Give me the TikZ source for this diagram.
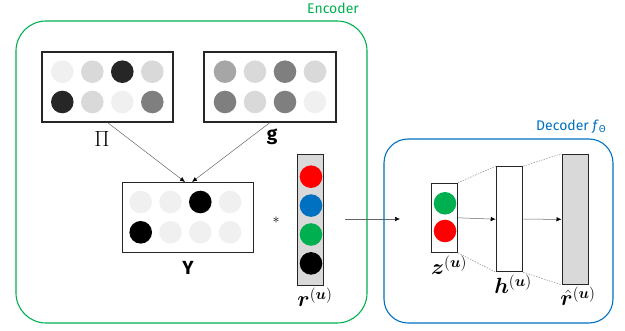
\RequirePackage{fix-cm}
\documentclass[tikz,border=0pt]{standalone}
\usepackage{amsmath}
\usepackage{bm}
\usepackage{fontspec}
\setsansfont{Fira Sans}
\usetikzlibrary{arrows.meta}
\definecolor{encgreen}{HTML}{00B050}
\definecolor{decblue}{HTML}{0070C0}
\definecolor{gA}{HTML}{F0F0F0}
\definecolor{gB}{HTML}{D9D9D9}
\definecolor{gC}{HTML}{262626}
\definecolor{gD}{HTML}{7F7F7F}
\definecolor{gE}{HTML}{A6A6A6}
\definecolor{dotred}{HTML}{FF0000}
\definecolor{dotblue}{HTML}{0070C0}
\definecolor{dotgreen}{HTML}{00B050}
\begin{document}
\begin{tikzpicture}[x=1pt,y=-1pt,
  matbox/.style={draw=black!85, line width=1.1pt, inner sep=0pt},
  dot/.style={circle, minimum size=22.6pt, inner sep=0pt},
  conn/.style={draw=black!60, line width=0.5pt, -{Latex[length=5pt,width=4.5pt,color=black]}},
  guide/.style={draw=black!45, line width=0.5pt, dash pattern=on 1.5pt off 1.2pt},
  mlabel/.style={font=\fontsize{22}{25}\selectfont, anchor=base, inner sep=0pt},
  slabel/.style={font=\sffamily\bfseries\fontsize{19}{22}\selectfont, anchor=base, inner sep=0pt},
  title/.style={font=\sffamily\fontsize{14}{16}\selectfont, inner sep=0pt}]
\useasboundingbox (0,0) rectangle (625,331);

% Encoder
\node[draw=encgreen, line width=1.1pt, rounded corners=30pt, minimum width=351pt, minimum height=302pt] (enc) at (191.5,172) {};
\node[title, text=encgreen] (enclbl) at (333,8) {Encoder};

% Pi box
\node[matbox, minimum width=131pt, minimum height=70pt] (pibox) at (107.5,87) {};
\foreach \c [count=\i] in {gA,gB,gC,gB}
  \node[dot, fill=\c] (pia\i) at ({62.3+30*(\i-1)},71.7) {};
\foreach \c [count=\i] in {gC,gB,gA,gD}
  \node[dot, fill=\c] (pib\i) at ({62.3+30*(\i-1)},102) {};
\node[mlabel] (pilbl) at (102,147) {$\Pi$};

% g box
\node[matbox, minimum width=132pt, minimum height=70pt] (gbox) at (270,87) {};
\foreach \c [count=\i] in {gE,gB,gD,gB}
  \node[dot, fill=\c] (ga\i) at ({225+30*(\i-1)},71.7) {};
\foreach \c [count=\i] in {gD,gB,gD,gA}
  \node[dot, fill=\c] (gb\i) at ({225+30*(\i-1)},102) {};
\node[slabel] (glbl) at (272,141) {g};

% Y box
\node[matbox, minimum width=131pt, minimum height=70pt] (ybox) at (188,217.5) {};
\foreach \c [count=\i] in {gA,gA,black,gA}
  \node[dot, fill=\c] (ya\i) at ({140.7+29.8*(\i-1)},202) {};
\foreach \c [count=\i] in {black,gA,gA,gA}
  \node[dot, fill=\c] (yb\i) at ({140.7+29.8*(\i-1)},232.3) {};
\node[slabel] (ylbl) at (188,275) {Y};

\draw[conn] (pibox.south) -- ([xshift=-3pt]ybox.north);
\draw[conn] (gbox.south) -- ([xshift=4pt]ybox.north);

% star
\node[font=\fontsize{14}{16}\selectfont, inner sep=0pt] (star) at (276,220) {$\ast$};

% r column
\node[matbox, fill=gB, minimum width=25.6pt, minimum height=131pt] (rbox) at (310.5,219.7) {};
\foreach \c [count=\i] in {dotred,dotblue,dotgreen,black}
  \node[dot, fill=\c] (r\i) at (311,{176.7+28.9*(\i-1)}) {};
\node[mlabel] (rlbl) at (315,307) {$\bm{r}^{(\bm{u})}$};

% Encoder -> Decoder
\coordinate (ea) at (345,219);
\coordinate (da) at (400,219);
\draw[conn] (ea) -- (da);

% Decoder
\node[draw=decblue, line width=1.1pt, rounded corners=24pt, minimum width=229pt, minimum height=184pt] (dec) at (498.5,231) {};
\node[title, text=decblue] (declbl) at (571,127) {Decoder \textit{f}\raisebox{-0.3ex}{\fontsize{10}{11}\selectfont Θ}};

\node[matbox, fill=white, minimum width=25.6pt, minimum height=69pt] (zbox) at (444.5,217.8) {};
\node[dot, fill=dotgreen] (z1) at (445,203.3) {};
\node[dot, fill=dotred] (z2) at (445,231) {};
\node[mlabel] (zlbl) at (449,275) {$\bm{z}^{(\bm{u})}$};

\node[matbox, fill=white, minimum width=26.4pt, minimum height=105pt] (hbox) at (509.5,219.2) {};
\node[mlabel] (hlbl) at (513,294) {$\bm{h}^{(\bm{u})}$};

\node[matbox, fill=gB, minimum width=26.3pt, minimum height=130pt] (rhbox) at (575.2,219.3) {};
\node[mlabel] (rhlbl) at (578,306) {$\hat{\bm{r}}^{(\bm{u})}$};

\draw[guide] (zbox.north east) -- (hbox.north west);
\draw[guide] (zbox.south east) -- (hbox.south west);
\draw[guide] (hbox.north east) -- (rhbox.north west);
\draw[guide] (hbox.south east) -- (rhbox.south west);

\draw[conn] (zbox.east) -- (hbox.west);
\draw[conn] (hbox.east) -- (rhbox.west);
\end{tikzpicture}
\end{document}
